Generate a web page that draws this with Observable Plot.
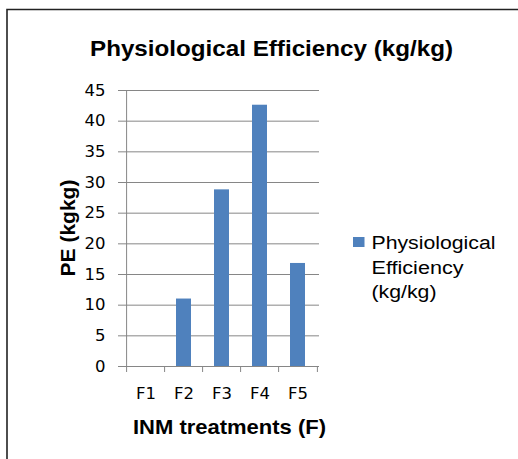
<!DOCTYPE html>
<html><head><meta charset="utf-8">
<script src="https://cdn.jsdelivr.net/npm/d3@7"></script>
<script src="https://cdn.jsdelivr.net/npm/@observablehq/plot@0.6"></script>
<style>
body{margin:0;background:#fff}
#wrap{position:relative;width:518px;height:459px;overflow:hidden}
#wrap svg{position:absolute;left:0;top:0}
</style>
</head><body><div id="wrap"></div>
<script>
const categories = ["F1", "F2", "F3", "F4", "F5"];
const values = [0, 11, 28.8, 42.6, 16.8];
const yTicks = [0, 5, 10, 15, 20, 25, 30, 35, 40, 45];
const chartTitle = "Physiological Efficiency (kg/kg)";
const xTitle = "INM treatments (F)";
const yTitle = "PE (kgkg)";
const legendLines = ["Physiological", "Efficiency", "(kg/kg)"];

const data = categories.map((c, i) => ({treatment: c, pe: values[i]}));

const W = 518, H = 459, mL = 125, mR = 199, mT = 90, mB = 93;
const step = (W - mL - mR) / categories.length;
const grey = "#868686";
const blue = "#4F81BD";
const tickFont = "DejaVu Sans, Open Sans, sans-serif";

const chart = Plot.plot({
  width: W, height: H,
  marginLeft: mL, marginRight: mR, marginTop: mT, marginBottom: mB,
  style: {background: "transparent", overflow: "visible"},
  x: {domain: categories, paddingInner: 0.6, paddingOuter: 0.3, axis: null},
  y: {domain: [0, 45], axis: null},
  marks: [
    Plot.gridY(yTicks, {stroke: grey, strokeOpacity: 1}),
    Plot.barY(data, {x: "treatment", y: "pe", fill: blue}),
    Plot.ruleX([categories[0]], {dx: -step / 2, stroke: grey}),
    Plot.axisY({ticks: yTicks, tickSize: 7, tickPadding: 13, stroke: grey, strokeOpacity: 1, fill: "#000", fontSize: 16.5, fontFamily: tickFont, label: null}),
    Plot.axisX({ticks: categories, tickSize: 6, dx: -step / 2, stroke: grey, strokeOpacity: 1, fill: "none", label: null}),
    Plot.axisX({ticks: [categories[categories.length - 1]], tickSize: 6, dx: step / 2, stroke: grey, strokeOpacity: 1, fill: "none", label: null}),
    Plot.axisX({ticks: categories, tickSize: 0, tickPadding: 21, fill: "#000", fontSize: 16.5, fontFamily: tickFont, label: null})
  ]
});
document.getElementById("wrap").appendChild(chart);

// overlay: border, titles, legend
const ov = d3.select("#wrap").append("svg")
  .attr("width", W).attr("height", H)
  .style("pointer-events", "none");
ov.append("path").attr("d", "M7,459V9.5H518").attr("fill", "none").attr("stroke", "#222").attr("stroke-width", 1.6);

const boldFont = "Liberation Sans, Arial, sans-serif";
ov.append("text").text(chartTitle)
  .attr("x", 90).attr("y", 56)
  .attr("font-family", boldFont).attr("font-weight", "bold").attr("font-size", 21.5)
  .attr("textLength", 363).attr("lengthAdjust", "spacingAndGlyphs");
ov.append("text").text(xTitle)
  .attr("x", 133).attr("y", 434)
  .attr("font-family", boldFont).attr("font-weight", "bold").attr("font-size", 21)
  .attr("textLength", 193).attr("lengthAdjust", "spacingAndGlyphs");
ov.append("text").text(yTitle)
  .attr("transform", "translate(75,228) rotate(-90)")
  .attr("text-anchor", "middle")
  .attr("font-family", boldFont).attr("font-weight", "bold").attr("font-size", 21);

ov.append("rect").attr("x", 353).attr("y", 237).attr("width", 11.5).attr("height", 10).attr("fill", blue);
const legLens = [124, 92, 65];
legendLines.forEach((t, i) => {
  ov.append("text").text(t)
    .attr("x", 371.5).attr("y", 249 + i * 24.5)
    .attr("font-family", boldFont).attr("font-size", 18)
    .attr("textLength", legLens[i]).attr("lengthAdjust", "spacingAndGlyphs");
});
</script>
</body></html>
